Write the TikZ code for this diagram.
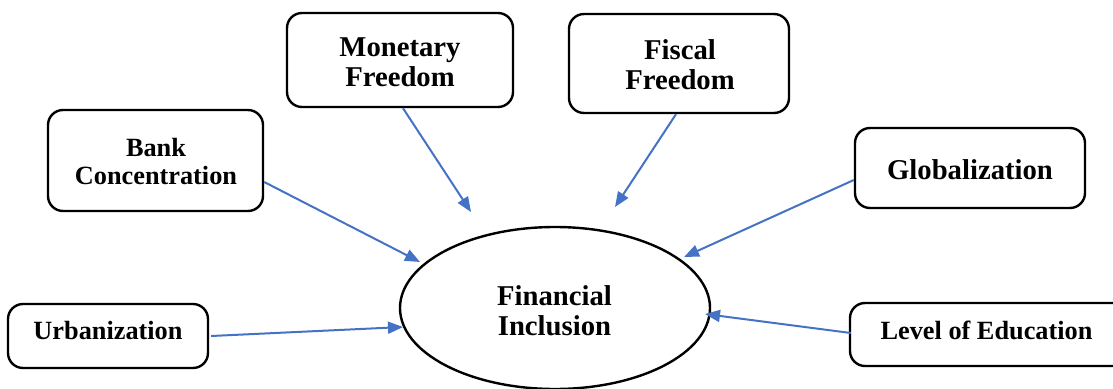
\documentclass[tikz,border=0pt]{standalone}
\usepackage{fontspec}
\setmainfont{Liberation Serif}
\usetikzlibrary{arrows.meta,shapes.geometric}
\definecolor{arrblue}{HTML}{4472C4}
\begin{document}
\begin{tikzpicture}[x=1pt,y=-1pt,
  box/.style={draw=black,line width=2.4pt,rounded corners=15pt,inner sep=0pt},
  lbl/.style={font=\bfseries\fontsize{28.7}{30}\selectfont,align=center,inner sep=0pt},
  lbls/.style={font=\bfseries\fontsize{26.3}{28}\selectfont,align=center,inner sep=0pt},
  arr/.style={draw=arrblue,line width=2pt,-{Triangle[length=15pt,width=12pt]}}]
\useasboundingbox (0,0) rectangle (1113,388);
% boxes
\node[box,minimum width=226pt,minimum height=94pt] (mon) at (400,60) {};
\node[box,minimum width=220pt,minimum height=99pt] (fis) at (679,63.5) {};
\node[box,minimum width=215pt,minimum height=101pt] (bank) at (155.5,160.5) {};
\node[box,minimum width=230pt,minimum height=80pt] (glob) at (970,168) {};
\node[box,minimum width=200pt,minimum height=64pt] (urb) at (108,336) {};
\node[box,minimum width=280pt,minimum height=63pt] (lev) at (990,334.5) {};
\node[draw=black,line width=2.4pt,ellipse,inner sep=0pt,minimum width=310pt,minimum height=162pt] (fin) at (555,308) {};
% labels
\node[lbl] (monT) at (400,62) {Monetary\\Freedom};
\node[lbl] (fisT) at (680,65) {Fiscal\\Freedom};
\node[lbls] (bankT) at (156,162) {Bank\\Concentration};
\node[lbl] (globT) at (970,169.5) {Globalization};
\node[lbls] (urbT) at (108,330) {Urbanization};
\node[lbls] (levT) at (986.5,330) {Level of Education};
\node[lbl] (finT) at (554.5,311) {Financial\\Inclusion};
% arrow tips
\coordinate (t1) at (420,262);
\coordinate (t2) at (471,212);
\coordinate (t3) at (615,207);
\coordinate (t4) at (684,257);
\coordinate (t5) at (403,327);
\coordinate (t6) at (705,314);
% arrows
\draw[arr] ([yshift=-21.5pt]bank.east) -- (t1);
\draw[arr] ([xshift=3pt]mon.south) -- (t2);
\draw[arr] ([xshift=-3pt]fis.south) -- (t3);
\draw[arr] ([yshift=-12pt]glob.west) -- (t4);
\draw[arr] ([xshift=2pt]urb.east) -- (t5);
\draw[arr] ([xshift=2pt,yshift=1.5pt]lev.west) -- (t6);
\end{tikzpicture}
\end{document}
